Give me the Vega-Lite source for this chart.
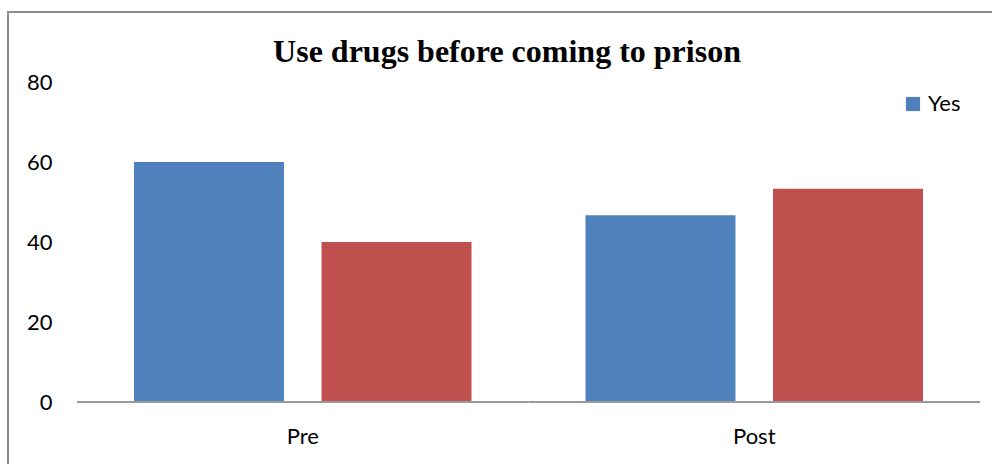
{
  "$schema": "https://vega.github.io/schema/vega-lite/v6.json",
  "width": 986,
  "height": 454,
  "autosize": {"type": "none"},
  "padding": {"left": 8, "top": 12, "right": -2, "bottom": -2},
  "background": "white",
  "title": {
    "text": "Use drugs before coming to prison",
    "font": "Liberation Serif",
    "fontSize": 32,
    "fontWeight": "bold",
    "color": "black",
    "anchor": "middle",
    "frame": "group",
    "baseline": "alphabetic",
    "offset": -50,
    "dx": 6,
    "dy": 32
  },
  "config": {
    "view": {"stroke": "#8c8c8c", "strokeWidth": 2},
    "axis": {"labelFont": "Lato", "labelFontSize": 22, "labelColor": "black", "grid": false, "domain": false, "ticks": false, "tickSize": 0, "title": null},
    "legend": {"labelFont": "Lato", "labelFontSize": 22, "labelColor": "black"}
  },
  "datasets": {
    "drugs": [
      {"period": "Pre", "answer": "Yes", "percent": 60},
      {"period": "Pre", "answer": "No", "percent": 40},
      {"period": "Post", "answer": "Yes", "percent": 46.7},
      {"period": "Post", "answer": "No", "percent": 53.3}
    ],
    "baseline": [
      {"period": "Pre"},
      {"period": "Post"}
    ]
  },
  "layer": [
    {
      "data": {"name": "drugs"},
      "mark": {"type": "bar"},
      "encoding": {
        "x": {
          "field": "period",
          "type": "nominal",
          "sort": ["Pre", "Post"],
          "scale": {"paddingInner": 0, "paddingOuter": 0.091916, "align": 0.8313},
          "axis": {"orient": "bottom", "offset": -40, "labelPadding": 0, "labelAngle": 0}
        },
        "xOffset": {
          "field": "answer",
          "type": "nominal",
          "sort": ["Yes", "No"],
          "scale": {"paddingInner": 0.2, "paddingOuter": 0.304}
        },
        "y": {
          "field": "percent",
          "type": "quantitative",
          "scale": {"domain": [-16, 97.5], "nice": false, "zero": false},
          "axis": {"values": [0, 20, 40, 60, 80], "offset": -44, "labelPadding": 0}
        },
        "y2": {"datum": 0},
        "color": {
          "field": "answer",
          "type": "nominal",
          "scale": {"domain": ["Yes", "No"], "range": ["#4F81BD", "#C0504D"]},
          "legend": {
            "values": ["Yes"],
            "title": null,
            "orient": "none",
            "legendX": 894,
            "legendY": 81,
            "padding": 0,
            "symbolType": "square",
            "symbolSize": 200,
            "symbolStrokeWidth": 0,
            "labelOffset": 4
          }
        }
      }
    },
    {
      "data": {"name": "baseline"},
      "mark": {"type": "tick", "color": "#9a9a9a", "thickness": 2, "size": 451.5, "opacity": 1},
      "encoding": {
        "x": {"field": "period", "type": "nominal", "sort": ["Pre", "Post"]},
        "y": {"datum": 0, "type": "quantitative"}
      }
    }
  ]
}
